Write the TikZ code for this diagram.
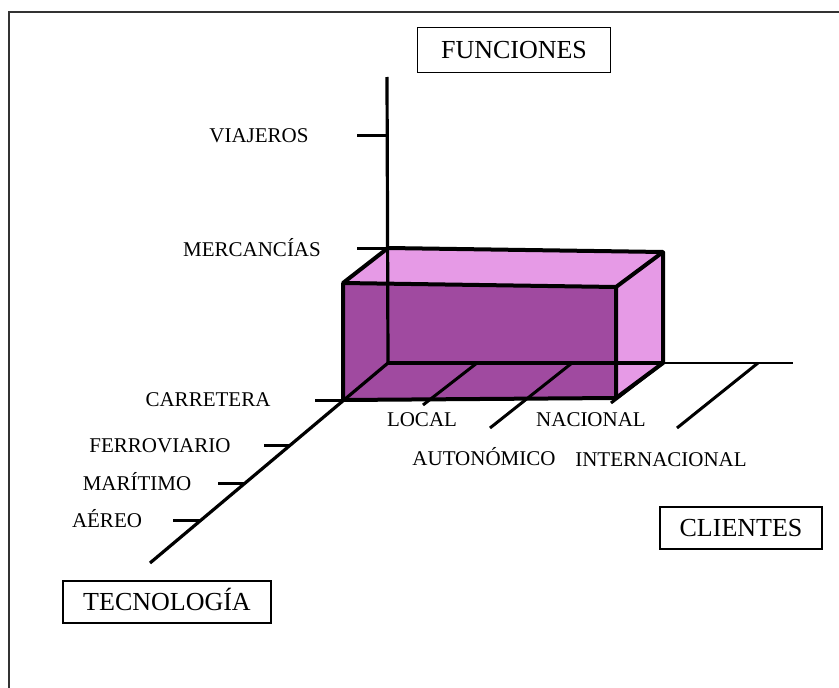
\documentclass[tikz,border=0pt]{standalone}
\usepackage{fontspec}
\setmainfont{Liberation Serif}
\usepackage{xcolor}
\usetikzlibrary{positioning, calc}
\definecolor{boxfront}{RGB}{160,74,160}
\definecolor{boxside}{RGB}{230,154,230}

\begin{document}
\begin{tikzpicture}[x=1pt, y=-1pt]
		\tikzstyle{axis}=[line width=3.2pt, black]
		\tikzstyle{tick}=[line width=3pt, black]
		\tikzstyle{edge}=[line width=4pt, black, line join=round]
		\tikzstyle{axislabel}=[font=\fontsize{21}{25}\selectfont, inner sep=0pt, text height=14pt, text depth=0pt]
		\tikzstyle{axistitle}=[draw=black, line width=1.5pt, font=\fontsize{26}{30}\selectfont, inner sep=0pt, text height=17pt, text depth=0pt]
		
		\useasboundingbox (0,0) rectangle (839,688);
		\draw [line width=1.6pt, black!80] (9,688) -- (9,12) -- (839,12);
		
		% corners of the box
		\coordinate (o) at (388,363);
		\coordinate (btl) at (388,248);
		\coordinate (btr) at (663,252);
		\coordinate (bbr) at (663,363);
		\coordinate (ftl) at (343,283);
		\coordinate (ftr) at (616,287);
		\coordinate (fbr) at (616,398);
		\coordinate (fbl) at (343,400);
		
		% ends of the axes
		\coordinate (ftop) at (387,77);
		\coordinate (cend) at (793,363);
		\coordinate (tend) at (150,563);
		
		\fill [boxside] (ftl) -- (btl) -- (btr) -- (ftr) -- cycle;
		\fill [boxside] (ftr) -- (btr) -- (bbr) -- (fbr) -- cycle;
		\fill [boxfront] (ftl) -- (ftr) -- (fbr) -- (fbl) -- cycle;
		
		\draw [axis] (ftop) -- (o);
		\draw [axis] (o) -- (tend);
		\draw [axis] (o) -- (bbr);
		\draw [axis, line width=2.4pt] (bbr) -- (cend);
		
		\draw [edge] (ftl) -- (btl) -- (btr) -- (ftr) -- cycle;
		\draw [edge] (btr) -- (bbr) -- (fbr);
		\draw [edge] (ftl) -- (fbl) -- (fbr) -- (ftr);
		
		% ticks on FUNCIONES
		\coordinate (fviaj) at (387,135);
		\draw [tick] (fviaj) -- ++(-30,0);
		\draw [tick] (btl) -- ++(-31,0);
		
		% ticks on TECNOLOGIA
		\coordinate (tferr) at ($(o)!0.41!(tend)$);
		\coordinate (tmari) at ($(o)!0.60!(tend)$);
		\coordinate (taere) at ($(o)!0.785!(tend)$);
		\draw [tick] (fbl) -- ++(-28,0);
		\draw [tick] (tferr) -- ++(-26,0);
		\draw [tick] (tmari) -- ++(-27,0);
		\draw [tick] (taere) -- ++(-28,0);
		
		% ticks on CLIENTES
		\coordinate (cloc) at (477,363);
		\coordinate (caut) at (572,363);
		\coordinate (cint) at (758,363);
		\draw [tick] (cloc) -- ++(-54,42);
		\draw [tick] (caut) -- ++(-82,65);
		\draw [tick] (bbr) -- ++(-52,40);
		\draw [tick] (cint) -- ++(-81,65);
		
		\node (viaj) at (259,135) [axislabel] {VIAJEROS};
		\node (merc) at (252,249) [axislabel] {MERCANCÍAS};
		\node (carr) at (208,399) [axislabel] {CARRETERA};
		\node (ferr) at (160,445) [axislabel] {FERROVIARIO};
		\node (mari) at (137,483) [axislabel] {MARÍTIMO};
		\node (aere) at (107,520) [axislabel] {AÉREO};
		\node (loc) at (422,419) [axislabel] {LOCAL};
		\node (nac) at (591,419) [axislabel] {NACIONAL};
		\node (aut) at (484,458) [axislabel] {AUTONÓMICO};
		\node (inter) at (661,459) [axislabel] {INTERNACIONAL};
		
		\node (fun) at (514,50) [axistitle, minimum width=193pt, minimum height=45pt] {FUNCIONES};
		\node (cli) at (741,528) [axistitle, minimum width=162pt, minimum height=42pt] {CLIENTES};
		\node (tec) at (167,602) [axistitle, minimum width=208pt, minimum height=42pt] {TECNOLOGÍA};
		\end{tikzpicture}
\end{document}
